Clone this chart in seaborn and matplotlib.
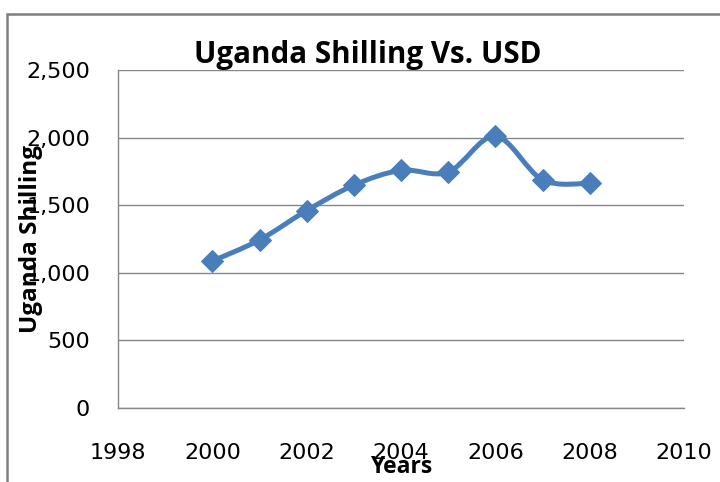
"""
Uganda Shilling vs USD - smoothed line chart (Excel style)
"""
import matplotlib
matplotlib.use('Agg')
import matplotlib.pyplot as plt
import matplotlib.ticker as mticker
from matplotlib.path import Path
from matplotlib.patches import PathPatch, Rectangle
import numpy as np
import pandas as pd
import seaborn as sns

years = [2000, 2001, 2002, 2003, 2004, 2005, 2006, 2007, 2008]
shilling = [1087, 1243, 1460, 1648, 1758, 1745, 2010, 1688, 1662]
x_ticks = [1998, 2000, 2002, 2004, 2006, 2008, 2010]
y_ticks = [0, 500, 1000, 1500, 2000, 2500]

BLUE = '#4A7EBB'
GRID = '#868686'

sns.set_theme(style='white')
plt.rcParams['font.family'] = ['DejaVu Sans']
plt.rcParams['text.color'] = 'black'
plt.rcParams['axes.labelcolor'] = 'black'

df = pd.DataFrame({'Years': years, 'Uganda Shilling': shilling})

fig = plt.figure(figsize=(7.2, 4.82), dpi=100)
ax = fig.add_axes([118 / 720, 1 - 408 / 482, (684 - 118) / 720, (408 - 70) / 482])

# smoothed line like Excel: cubic bezier segments through the points
pts = df[['Years', 'Uganda Shilling']].to_numpy(dtype=float)
n = len(pts)
verts, codes = [pts[0]], [Path.MOVETO]
for i in range(n - 1):
    p0 = pts[max(i - 1, 0)]
    p1, p2 = pts[i], pts[i + 1]
    p3 = pts[min(i + 2, n - 1)]
    verts += [p1 + (p2 - p0) / 6, p2 - (p3 - p1) / 6, p2]
    codes += [Path.CURVE4] * 3
ax.add_patch(PathPatch(Path(verts, codes), fill=False, edgecolor=BLUE, lw=3.6,
                       capstyle='round', joinstyle='round', zorder=3))

sns.lineplot(data=df, x='Years', y='Uganda Shilling', ax=ax, lw=0, marker='D',
             markersize=11.5, color=BLUE, markeredgecolor=BLUE, zorder=4)

ax.set_xlim(1998, 2010)
ax.set_ylim(0, 2500)
ax.set_xticks(x_ticks)
ax.set_yticks(y_ticks)
ax.yaxis.set_major_formatter(mticker.FuncFormatter(lambda v, p: f'{int(v):,}'))
ax.grid(axis='y', color=GRID, lw=1)
ax.grid(axis='x', visible=False)
for s in ['top', 'right']:
    ax.spines[s].set_visible(False)
for s in ['left', 'bottom']:
    ax.spines[s].set_color(GRID)
    ax.spines[s].set_linewidth(1)
ax.tick_params(axis='y', length=0, pad=20, labelsize=16, colors='black')
ax.tick_params(axis='x', length=0, pad=25, labelsize=16, colors='black')

ax.set_xlabel('Years', fontsize=16.5, fontweight='bold', family='Open Sans', color='black')
ax.set_ylabel('Uganda Shilling', fontsize=17.5, fontweight='bold', family='Open Sans', color='black')
ax.xaxis.set_label_coords(0.5, -0.14)
ax.yaxis.set_label_coords(-0.133, 0.5)

fig.text(368 / 720, 1 - 63 / 482, 'Uganda Shilling Vs. USD', ha='center', va='baseline',
         fontsize=21.3, fontweight='bold', family='Open Sans', color='black')

# chart area border (runs off right/bottom edge)
fig.patches.append(Rectangle((7 / 720, -0.1), 1.2, 1.1 - 14 / 482, transform=fig.transFigure,
                             fill=False, edgecolor='#7f7f7f', lw=1.8))

fig.savefig('out.png', dpi=100)
